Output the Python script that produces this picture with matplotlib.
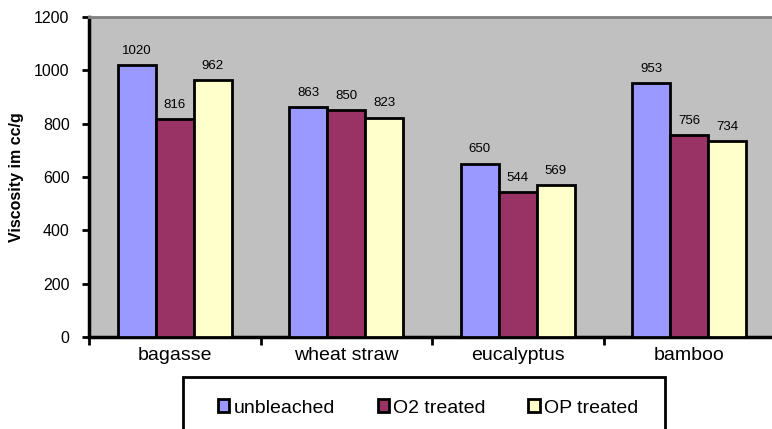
import numpy as np
import matplotlib.pyplot as plt
from matplotlib.patches import Rectangle

plt.rcParams['font.family'] = ['Liberation Sans', 'DejaVu Sans']

pulps = ['bagasse', 'wheat straw', 'eucalyptus', 'bamboo']
unbleached = [1020, 863, 650, 953]
o2_treated = [816, 850, 544, 756]
op_treated = [962, 823, 569, 734]

series = [('unbleached', unbleached, '#9999FF'),
          ('O2 treated', o2_treated, '#993366'),
          ('OP treated', op_treated, '#FFFFCC')]

fig = plt.figure(figsize=(7.72, 4.29), dpi=100)
ax = fig.add_axes([89 / 772, 92 / 429, 686 / 772, 320 / 429])
ax.set_facecolor('#C0C0C0')

x = np.arange(len(pulps))
w = 0.222
for i, (name, vals, col) in enumerate(series):
    pos = x + (i - 1) * w
    ax.bar(pos, vals, width=w, color=col, edgecolor='black', linewidth=2, label=name, zorder=3)
    for px, v in zip(pos, vals):
        ax.annotate(str(v), (px, v), xytext=(0, 6), textcoords='offset points',
                    ha='center', va='bottom', fontsize=9.5)

ax.set_xlim(-0.5, len(pulps) - 0.5)
ax.set_ylim(0, 1200)
ax.set_yticks(range(0, 1201, 200))
ax.tick_params(axis='y', labelsize=11.5, length=5, width=2, direction='out', pad=9)

# category names centred, tick marks between groups
ax.set_xticks(x)
ax.set_xticklabels(pulps, fontsize=14)
ax.tick_params(axis='x', which='major', length=0, pad=7)
ax.set_xticks(np.arange(-0.5, len(pulps)), minor=True)
ax.tick_params(axis='x', which='minor', length=6, width=2, direction='out')

ax.spines['left'].set_linewidth(2.5)
ax.spines['bottom'].set_linewidth(2.5)
ax.spines['top'].set_color('#808080')
ax.spines['top'].set_linewidth(2)
ax.spines['right'].set_visible(False)

ax.set_ylabel('Viscosity im cc/g', fontsize=11.5, fontweight='bold', labelpad=7)

# legend box at the bottom
fig.patches.append(Rectangle((183 / 772, -0.05), (665 - 183) / 772, 0.05 + 52 / 429,
                             transform=fig.transFigure, fill=False, edgecolor='black',
                             linewidth=2, clip_on=False))
handles, labels = ax.get_legend_handles_labels()
fig.legend(handles, labels, loc='center', bbox_to_anchor=(428 / 772, 21 / 429), ncol=3,
           frameon=False, fontsize=14, handlelength=0.6, handleheight=0.6,
           handletextpad=0.2, columnspacing=2.2)

fig.savefig('out.png', dpi=100)
